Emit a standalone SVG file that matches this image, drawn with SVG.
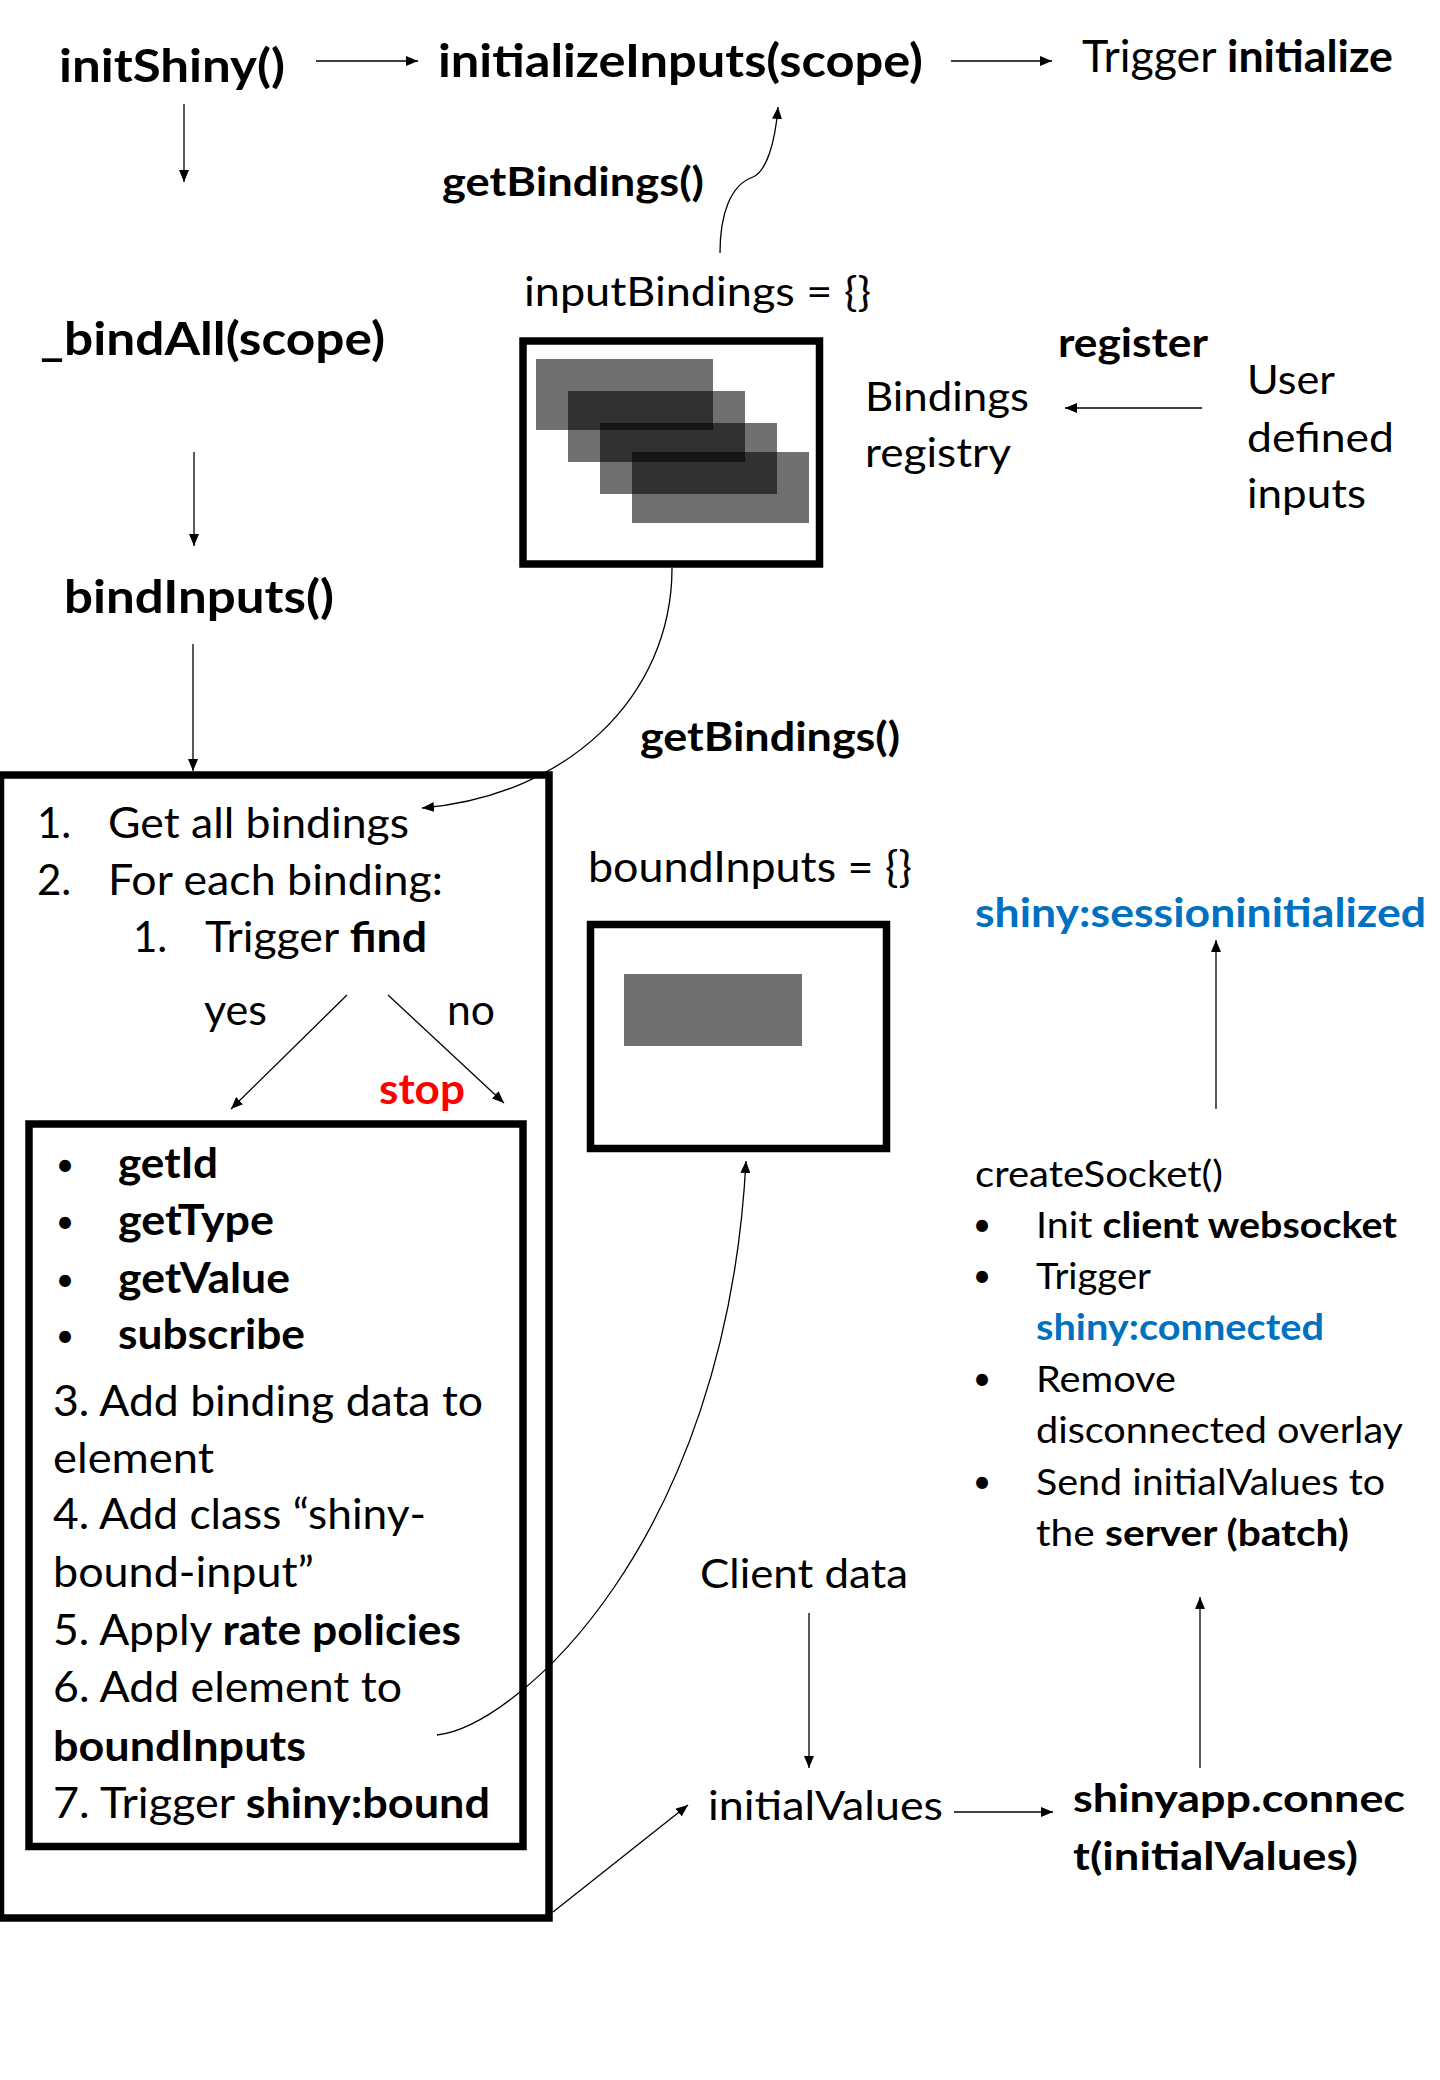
<svg xmlns="http://www.w3.org/2000/svg" width="1440" height="2080" viewBox="0 0 1440 2080">
<style>
text{font-family:Lato,"Open Sans","Liberation Sans",sans-serif;fill:#000;font-size:42px}
.b{font-weight:bold}
.h{font-size:46px}
.s{font-size:40px}
.r{font-size:36px}
.m{font-size:40px}
.bul{font-size:32px}
.blue{fill:#0070C0}
.red{fill:#FF0000}
.ln{stroke:#000;stroke-width:1.3;fill:none}
.box{fill:#fff;stroke:#000;stroke-width:7.5}
.sq{fill:#000;fill-opacity:0.56}
</style>
<defs>
<marker id="ah" viewBox="0 0 12 10" refX="12" refY="5" markerWidth="12" markerHeight="10" markerUnits="userSpaceOnUse" orient="auto"><path d="M0,0 L12,5 L0,10 z" fill="#000"/></marker>
</defs>
<rect width="1440" height="2080" fill="#fff"/>

<g id="initShiny"><text class="b h" x="59" y="82" textLength="226" lengthAdjust="spacingAndGlyphs">initShiny()</text></g>
<g id="initializeInputs"><text class="b h" x="438" y="77" textLength="485" lengthAdjust="spacingAndGlyphs">initializeInputs(scope)</text></g>
<g id="triggerInitialize"><text x="1082" y="72" textLength="311" lengthAdjust="spacingAndGlyphs" style="font-size:44px">Trigger <tspan class="b">initialize</tspan></text></g>
<g id="getBindings1"><text class="b s" x="442" y="196" textLength="262" lengthAdjust="spacingAndGlyphs">getBindings()</text></g>

<g id="inputBindings">
<text class="m" x="524" y="306" textLength="347" lengthAdjust="spacingAndGlyphs">inputBindings = {}</text>
<rect class="box" x="523" y="341" width="296.5" height="223"/>
<rect class="sq" x="536" y="359" width="177" height="71"/>
<rect class="sq" x="568" y="391" width="177" height="71"/>
<rect class="sq" x="600" y="423" width="177" height="71"/>
<rect class="sq" x="632" y="452" width="177" height="71"/>
</g>

<g id="bindingsRegistry">
<text class="m" x="865" y="411" textLength="164" lengthAdjust="spacingAndGlyphs">Bindings</text>
<text class="m" x="865" y="467" textLength="146" lengthAdjust="spacingAndGlyphs">registry</text>
</g>
<g id="registerLabel"><text class="b s" x="1058" y="357" textLength="150" lengthAdjust="spacingAndGlyphs">register</text></g>
<g id="userInputs">
<text class="m" x="1247" y="394" textLength="88" lengthAdjust="spacingAndGlyphs">User</text>
<text class="m" x="1247" y="452" textLength="147" lengthAdjust="spacingAndGlyphs">defined</text>
<text class="m" x="1247" y="508" textLength="119" lengthAdjust="spacingAndGlyphs">inputs</text>
</g>

<g id="bindAll"><text class="b h" x="40" y="355" textLength="345" lengthAdjust="spacingAndGlyphs">_bindAll(scope)</text></g>
<g id="bindInputs"><text class="b h" x="64" y="613" textLength="270" lengthAdjust="spacingAndGlyphs">bindInputs()</text></g>
<g id="getBindings2"><text class="b s" x="640" y="751" textLength="260" lengthAdjust="spacingAndGlyphs">getBindings()</text></g>

<g id="bindInputsSteps">
<rect class="box" x="0.5" y="775" width="548.5" height="1143"/>
<text x="37" y="838">1.</text>
<text x="108" y="838" textLength="301" lengthAdjust="spacingAndGlyphs">Get all bindings</text>
<text x="37" y="895">2.</text>
<text x="108" y="895" textLength="335" lengthAdjust="spacingAndGlyphs">For each binding:</text>
<text x="133" y="952">1.</text>
<text x="205" y="952" textLength="222" lengthAdjust="spacingAndGlyphs">Trigger <tspan class="b">find</tspan></text>
<text x="204" y="1025" textLength="63" lengthAdjust="spacingAndGlyphs">yes</text>
<text x="447" y="1025" textLength="48" lengthAdjust="spacingAndGlyphs">no</text>
<text class="b red" x="379" y="1104" textLength="86" lengthAdjust="spacingAndGlyphs">stop</text>
</g>

<g id="bindingMethods">
<rect class="box" x="29" y="1124" width="494" height="722.5"/>
<text class="bul" x="65" y="1176" text-anchor="middle">•</text><text class="b" x="118" y="1178" textLength="100" lengthAdjust="spacingAndGlyphs">getId</text>
<text class="bul" x="65" y="1233" text-anchor="middle">•</text><text class="b" x="118" y="1235" textLength="156" lengthAdjust="spacingAndGlyphs">getType</text>
<text class="bul" x="65" y="1291" text-anchor="middle">•</text><text class="b" x="118" y="1293" textLength="172" lengthAdjust="spacingAndGlyphs">getValue</text>
<text class="bul" x="65" y="1347" text-anchor="middle">•</text><text class="b" x="118" y="1349" textLength="187" lengthAdjust="spacingAndGlyphs">subscribe</text>
<text x="53" y="1416" textLength="430" lengthAdjust="spacingAndGlyphs">3. Add binding data to</text>
<text x="53" y="1473" textLength="161" lengthAdjust="spacingAndGlyphs">element</text>
<text x="53" y="1529" textLength="373" lengthAdjust="spacingAndGlyphs">4. Add class “shiny-</text>
<text x="53" y="1587" textLength="261" lengthAdjust="spacingAndGlyphs">bound-input”</text>
<text x="53" y="1645" textLength="408" lengthAdjust="spacingAndGlyphs">5. Apply <tspan class="b">rate policies</tspan></text>
<text x="53" y="1702" textLength="349" lengthAdjust="spacingAndGlyphs">6. Add element to</text>
<text class="b" x="53" y="1761" textLength="253" lengthAdjust="spacingAndGlyphs">boundInputs</text>
<text x="53" y="1818" textLength="437" lengthAdjust="spacingAndGlyphs">7. Trigger <tspan class="b">shiny:bound</tspan></text>
</g>

<g id="boundInputs">
<text x="588" y="882" textLength="324" lengthAdjust="spacingAndGlyphs">boundInputs = {}</text>
<rect class="box" x="590.5" y="924.5" width="296" height="224"/>
<rect x="624" y="974" width="178" height="72" fill="#707070"/>
</g>

<g id="sessionInitialized"><text class="b blue m" x="975" y="927" textLength="451" lengthAdjust="spacingAndGlyphs">shiny:sessioninitialized</text></g>

<g id="createSocket">
<text class="r" x="975" y="1187" textLength="248" lengthAdjust="spacingAndGlyphs">createSocket()</text>
<text class="bul" x="982" y="1236" text-anchor="middle">•</text>
<text class="r" x="1036" y="1238" textLength="361" lengthAdjust="spacingAndGlyphs">Init <tspan class="b">client websocket</tspan></text>
<text class="bul" x="982" y="1287" text-anchor="middle">•</text>
<text class="r" x="1036" y="1289" textLength="115" lengthAdjust="spacingAndGlyphs">Trigger</text>
<text class="r b blue" x="1036" y="1340" textLength="288" lengthAdjust="spacingAndGlyphs">shiny:connected</text>
<text class="bul" x="982" y="1390" text-anchor="middle">•</text>
<text class="r" x="1036" y="1392" textLength="140" lengthAdjust="spacingAndGlyphs">Remove</text>
<text class="r" x="1036" y="1443" textLength="367" lengthAdjust="spacingAndGlyphs">disconnected overlay</text>
<text class="bul" x="982" y="1493" text-anchor="middle">•</text>
<text class="r" x="1036" y="1495" textLength="349" lengthAdjust="spacingAndGlyphs">Send initialValues to</text>
<text class="r" x="1036" y="1546" textLength="313" lengthAdjust="spacingAndGlyphs">the <tspan class="b">server (batch)</tspan></text>
</g>

<g id="clientData"><text class="m" x="700" y="1588" textLength="208" lengthAdjust="spacingAndGlyphs">Client data</text></g>
<g id="initialValues"><text class="m" x="708" y="1820" textLength="235" lengthAdjust="spacingAndGlyphs">initialValues</text></g>
<g id="shinyappConnect">
<text class="b" x="1073" y="1812" textLength="332" lengthAdjust="spacingAndGlyphs" style="font-size:39px">shinyapp.connec</text>
<text class="b" x="1073" y="1870" textLength="285" lengthAdjust="spacingAndGlyphs" style="font-size:39px">t(initialValues)</text>
</g>

<g id="connectors">
<line class="ln" x1="316" y1="61" x2="418" y2="61" marker-end="url(#ah)"/>
<line class="ln" x1="951" y1="61" x2="1052" y2="61" marker-end="url(#ah)"/>
<line class="ln" x1="184" y1="104" x2="184" y2="182" marker-end="url(#ah)"/>
<path class="ln" d="M720,253 C720,215 730,185 753,177 C766,171 775,145 778,107" marker-end="url(#ah)"/>
<line class="ln" x1="1202" y1="408" x2="1065" y2="408" marker-end="url(#ah)"/>
<line class="ln" x1="194" y1="452" x2="194" y2="546" marker-end="url(#ah)"/>
<line class="ln" x1="193" y1="644" x2="193" y2="771" marker-end="url(#ah)"/>
<path class="ln" d="M672,568 C672,697 567,796 422,808" marker-end="url(#ah)"/>
<line class="ln" x1="347" y1="995" x2="231" y2="1109" marker-end="url(#ah)"/>
<line class="ln" x1="388" y1="995" x2="504" y2="1103" marker-end="url(#ah)"/>
<path class="ln" d="M437,1735 C517,1726 726,1542 746,1161" marker-end="url(#ah)"/>
<line class="ln" x1="1216" y1="1109" x2="1216" y2="940" marker-end="url(#ah)"/>
<line class="ln" x1="809" y1="1613" x2="809" y2="1768" marker-end="url(#ah)"/>
<line class="ln" x1="954" y1="1812" x2="1053" y2="1812" marker-end="url(#ah)"/>
<line class="ln" x1="1200" y1="1768" x2="1200" y2="1597" marker-end="url(#ah)"/>
<line class="ln" x1="553" y1="1912" x2="688" y2="1805" marker-end="url(#ah)"/>
</g>
</svg>
